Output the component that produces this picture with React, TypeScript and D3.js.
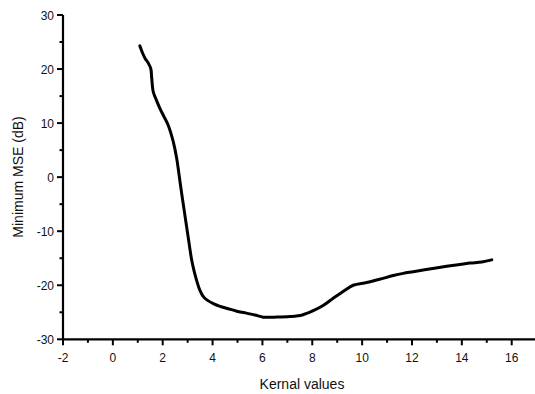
import React from "react";
import * as d3 from "d3";

// Kernel size vs. minimum MSE curve
const kernelValues = [
  1.08, 1.18, 1.29, 1.42, 1.52, 1.56, 1.62, 1.75, 1.89, 2.05, 2.22, 2.42, 2.56,
  2.66, 2.76, 2.86, 2.96, 3.06, 3.16, 3.26, 3.36, 3.48, 3.63, 3.8, 4.03, 4.3,
  4.6, 4.97, 5.3, 5.7, 6.03, 6.5, 7.1, 7.6, 8.04, 8.45, 8.84, 9.25, 9.64, 10.18,
  10.7, 11.25, 11.65, 12.05, 12.7, 13.39, 13.85, 14.32, 14.8, 15.2,
];
const minMse = [
  24.3, 23.1, 22.0, 21.1, 20.1, 18.3, 15.8, 14.2, 12.7, 11.2, 9.6, 6.6, 3.5, 0.3,
  -3.0, -6.1, -9.2, -12.3, -15.3, -17.4, -19.1, -20.8, -22.1, -22.8, -23.4,
  -23.9, -24.3, -24.8, -25.1, -25.5, -25.9, -25.9, -25.8, -25.5, -24.7, -23.7,
  -22.4, -21.1, -20.0, -19.5, -18.9, -18.2, -17.8, -17.5, -17.0, -16.5, -16.2,
  -15.9, -15.7, -15.3,
];

const xMajorTicks = [-2, 0, 2, 4, 6, 8, 10, 12, 14, 16];
const xMinorTicks = [-1, 1, 3, 5, 7, 9, 11, 13, 15];
const yMajorTicks = [-30, -20, -10, 0, 10, 20, 30];
const yMinorTicks = [-25, -15, -5, 5, 15, 25];

const W = 535;
const H = 394;

export default function App() {
  const x = d3.scaleLinear().domain([-2, 16]).range([63, 511.7]);
  const y = d3.scaleLinear().domain([-30, 30]).range([339.3, 15]);

  const points = kernelValues.map((k, i) => [k, minMse[i]] as [number, number]);
  const line = d3
    .line<[number, number]>()
    .x((d) => x(d[0]))
    .y((d) => y(d[1]))
    .curve(d3.curveCatmullRom.alpha(0.5));

  const font = "'Liberation Sans', Arial, sans-serif";
  const x0 = x(-2);
  const yBase = y(-30);

  return (
    <svg
      width={W}
      height={H}
      style={{ position: "absolute", left: 0, top: 0, background: "#fff" }}
    >
      {/* data curve */}
      <path
        d={line(points) ?? ""}
        fill="none"
        stroke="#000"
        strokeWidth={3}
        strokeLinejoin="round"
        strokeLinecap="round"
      />

      {/* axes */}
      <line x1={x0} y1={y(30)} x2={x0} y2={yBase} stroke="#000" strokeWidth={2.2} />
      <line x1={x0} y1={yBase} x2={W} y2={yBase} stroke="#000" strokeWidth={2.2} />

      {xMajorTicks.map((t) => (
        <g key={"xm" + t}>
          <line x1={x(t)} x2={x(t)} y1={yBase} y2={yBase + 6} stroke="#000" strokeWidth={2} />
          <text
            x={x(t)}
            y={yBase + 23}
            textAnchor="middle"
            fontFamily={font}
            fontSize={12}
            fill="#111"
          >
            {t}
          </text>
        </g>
      ))}
      {xMinorTicks.map((t) => (
        <line key={"xn" + t} x1={x(t)} x2={x(t)} y1={yBase} y2={yBase + 3.5} stroke="#000" strokeWidth={2} />
      ))}

      {yMajorTicks.map((t) => (
        <g key={"ym" + t}>
          <line x1={x0 - 6} x2={x0} y1={y(t)} y2={y(t)} stroke="#000" strokeWidth={2} />
          <text
            x={x0 - 9}
            y={y(t) + 4.5}
            textAnchor="end"
            fontFamily={font}
            fontSize={12}
            fill="#111"
          >
            {t}
          </text>
        </g>
      ))}
      {yMinorTicks.map((t) => (
        <line key={"yn" + t} x1={x0 - 3.5} x2={x0} y1={y(t)} y2={y(t)} stroke="#000" strokeWidth={2} />
      ))}

      {/* axis titles */}
      <text
        x={302}
        y={389}
        textAnchor="middle"
        fontFamily={font}
        fontSize={14}
        fill="#111"
      >
        Kernal values
      </text>
      <text
        transform={`translate(23, 177) rotate(-90)`}
        textAnchor="middle"
        fontFamily={font}
        fontSize={14}
        fill="#111"
      >
        Minimum MSE (dB)
      </text>
    </svg>
  );
}
